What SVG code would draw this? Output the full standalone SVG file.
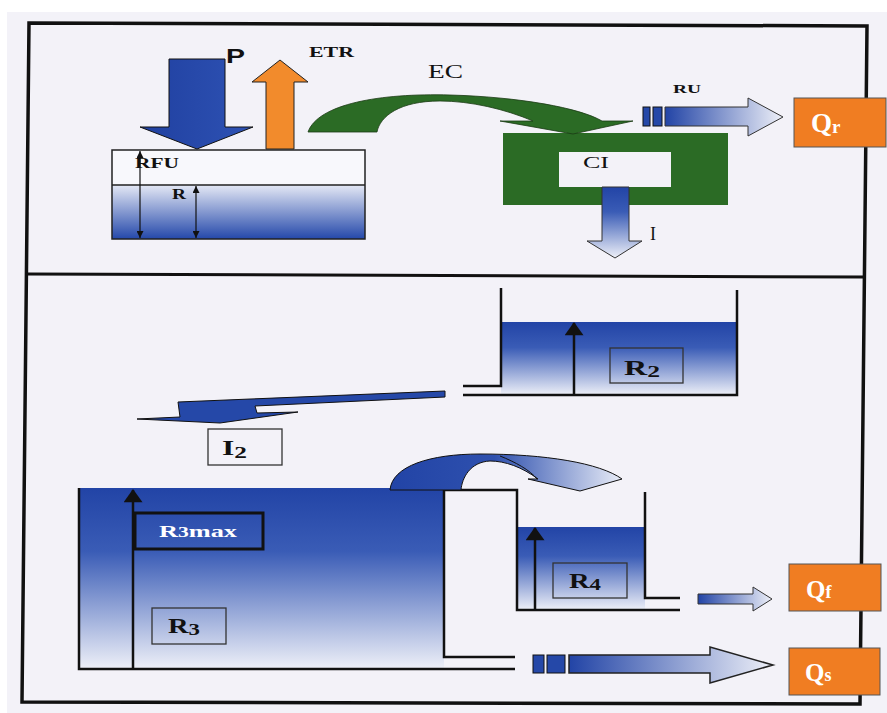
<svg xmlns="http://www.w3.org/2000/svg" width="887" height="713" viewBox="0 0 887 713">
<style>
.frame{fill:none;stroke:#111;stroke-width:3.5;stroke-linejoin:miter}
.wall{fill:none;stroke:#111;stroke-width:2.5}
.thin{stroke:#222;stroke-width:1.2}
.lbl{font-family:"Liberation Serif","Times New Roman",serif;font-weight:bold;fill:#111}
.reg{font-family:"Liberation Serif","Times New Roman",serif;fill:#111}
.box{fill:none;stroke:#333;stroke-width:1.3}
.q{fill:#f07d22;stroke:#555;stroke-width:1}
.qt{font-family:"Liberation Serif","Times New Roman",serif;font-weight:bold;fill:#fff}
.dark{fill:#2548a8;stroke:#111;stroke-width:1}
</style>
<defs>
<linearGradient id="gDown" x1="0" y1="0" x2="0" y2="1">
<stop offset="0" stop-color="#2244a6"/>
<stop offset="0.35" stop-color="#3a5cb6"/>
<stop offset="1" stop-color="#eef0f8"/>
</linearGradient>
<linearGradient id="gUp" x1="0" y1="0" x2="0" y2="1">
<stop offset="0" stop-color="#e4e8f5"/>
<stop offset="1" stop-color="#2448aa"/>
</linearGradient>
<linearGradient id="gRight" x1="0" y1="0" x2="1" y2="0">
<stop offset="0" stop-color="#2244a6"/>
<stop offset="1" stop-color="#eef0f8"/>
</linearGradient>
<linearGradient id="gArc" x1="0" y1="0" x2="1" y2="0">
<stop offset="0" stop-color="#2244a6"/>
<stop offset="0.45" stop-color="#2e50ae"/>
<stop offset="1" stop-color="#e8ecf7"/>
</linearGradient>
<linearGradient id="gP" x1="0" y1="0" x2="1" y2="0">
<stop offset="0" stop-color="#2040a0"/>
<stop offset="1" stop-color="#2e52b4"/>
</linearGradient>
<marker id="small" viewBox="0 0 8 8" refX="8" refY="4" markerWidth="8" markerHeight="7" markerUnits="userSpaceOnUse" orient="auto-start-reverse">
<path d="M0,0 L8,4 L0,8 Z" fill="#111"/>
</marker>
<marker id="big" viewBox="0 0 14 20" refX="13" refY="10" markerWidth="14" markerHeight="19" markerUnits="userSpaceOnUse" orient="auto">
<path d="M0,0 L14,10 L0,20 Z" fill="#111"/>
</marker>
</defs>
<rect x="0" y="0" width="887" height="713" fill="#ffffff"/>
<rect x="7" y="12" width="880" height="701" fill="#f3f2f8"/>
<g id="frame">
<polygon class="frame" points="29,23 867,26 860,704 22,702"/>
<line x1="27" y1="274" x2="864" y2="277" stroke="#111" stroke-width="3"/>
</g>
<g id="rfu">
<rect x="112" y="150" width="253" height="35" fill="#f8f8fc"/>
<rect x="112" y="185" width="253" height="54" fill="url(#gUp)"/>
<rect x="112" y="150" width="253" height="89" fill="none" stroke="#222" stroke-width="1.5"/>
<line x1="112" y1="185" x2="365" y2="185" stroke="#222" stroke-width="1.5"/>
<line x1="140" y1="151" x2="140" y2="238" stroke="#111" stroke-width="1.2" marker-start="url(#small)" marker-end="url(#small)"/>
<line x1="196" y1="186" x2="196" y2="238" stroke="#111" stroke-width="1.2" marker-start="url(#small)" marker-end="url(#small)"/>
<text class="lbl" x="135" y="168" font-size="14" textLength="44" lengthAdjust="spacingAndGlyphs">RFU</text>
<text class="lbl" x="172" y="199" font-size="14" textLength="14" lengthAdjust="spacingAndGlyphs">R</text>
</g>
<g id="ci">
<rect x="503" y="133" width="225" height="72" fill="#2b6b25"/>
<rect x="559" y="152" width="112" height="35" fill="#f3f2f8"/>
<text class="reg" x="583" y="168" font-size="17" textLength="26" lengthAdjust="spacingAndGlyphs">CI</text>
</g>
<g id="qr">
<rect class="q" x="794" y="98" width="92" height="49"/>
<text class="qt" x="811" y="132" font-size="27">Q<tspan font-size="19" dy="1">r</tspan></text>
</g>
<g id="r2">
<rect x="501" y="322" width="236" height="73" fill="url(#gDown)"/>
<polyline class="wall" points="501,288 501,386 463,386"/>
<polyline class="wall" points="463,395 737,395 737,290"/>
<line x1="574" y1="395" x2="574" y2="323" stroke="#111" stroke-width="2.5" marker-end="url(#big)"/>
<rect class="box" x="610" y="348" width="73" height="35"/>
<text class="lbl" x="624" y="375" font-size="20" textLength="36" lengthAdjust="spacingAndGlyphs">R<tspan font-size="16" dy="2">2</tspan></text>
</g>
<g id="i2">
<rect class="box" x="208" y="429" width="74" height="36"/>
<text class="lbl" x="222" y="455" font-size="20" textLength="25" lengthAdjust="spacingAndGlyphs">I<tspan font-size="16" dy="3">2</tspan></text>
</g>
<g id="r3">
<rect x="79" y="488" width="365" height="181" fill="url(#gDown)"/>
<rect x="444" y="490" width="73" height="167" fill="#f3f2f8"/>
<polyline class="wall" points="79,488 79,669 515,669"/>
<polyline class="wall" points="444,490 444,657 515,657"/>
<line x1="133" y1="668" x2="133" y2="490" stroke="#111" stroke-width="2.5" marker-end="url(#big)"/>
<rect x="135" y="513" width="128" height="36" fill="none" stroke="#111" stroke-width="3"/>
<text class="qt" x="159" y="537" font-size="17" textLength="78" lengthAdjust="spacingAndGlyphs" font-weight="normal">R<tspan font-size="14">3</tspan>max</text>
<rect class="box" x="152" y="608" width="74" height="36"/>
<text class="lbl" x="168" y="633" font-size="20" textLength="32" lengthAdjust="spacingAndGlyphs">R<tspan font-size="16" dy="2">3</tspan></text>
</g>
<g id="r4">
<rect x="517" y="527" width="128" height="83" fill="url(#gDown)"/>
<polyline class="wall" points="444,490 517,490 517,610 680,610"/>
<polyline class="wall" points="645,492 645,598 680,598"/>
<line x1="535" y1="610" x2="535" y2="528" stroke="#111" stroke-width="2.5" marker-end="url(#big)"/>
<rect class="box" x="553" y="563" width="74" height="35"/>
<text class="lbl" x="569" y="588" font-size="20" textLength="32" lengthAdjust="spacingAndGlyphs">R<tspan font-size="16" dy="2">4</tspan></text>
</g>
<g id="qf">
<rect class="q" x="789" y="564" width="92" height="47"/>
<text class="qt" x="806" y="598" font-size="25">Q<tspan font-size="18">f</tspan></text>
</g>
<g id="qs">
<rect class="q" x="789" y="648" width="91" height="47"/>
<text class="qt" x="805" y="681" font-size="25">Q<tspan font-size="18">s</tspan></text>
</g>
<g id="connectors">
<g id="p-arrow">
<polygon points="169,59 225,59 225,127 253,127 197,149 140,127 169,127" fill="url(#gP)" stroke="#111" stroke-width="1"/>
<text x="226" y="63" font-family="'Liberation Sans',Arial,sans-serif" font-weight="bold" font-size="21" fill="#111" textLength="19" lengthAdjust="spacingAndGlyphs">P</text>
</g>
<g id="etr-arrow">
<polygon points="266,149 266,82 252,82 280,60 308,82 294,82 294,149" fill="#f28b2c" stroke="#222" stroke-width="1"/>
<text class="lbl" x="309" y="57" font-size="14" textLength="45" lengthAdjust="spacingAndGlyphs">ETR</text>
</g>
<g id="ec-arrow">
<path d="M308,132 C318,104 380,93 450,95 C520,97 580,108 602,121 L633,121 L573,134 L500,121 L533,121 C505,109 470,101 440,101 C400,101 380,116 377,132 Z" fill="#2b6b25" stroke="#1a3a14" stroke-width="0.8"/>
<text class="reg" x="428" y="78" font-size="19" textLength="35" lengthAdjust="spacingAndGlyphs">EC</text>
</g>
<g id="i-arrow">
<polygon points="602,187 629,187 629,241 642,241 615,258 587,241 602,241" fill="url(#gDown)" stroke="#333" stroke-width="1"/>
<text class="reg" x="650" y="240" font-size="18">I</text>
</g>
<g id="ru-arrow">
<rect class="dark" x="643" y="107" width="7" height="19"/>
<rect class="dark" x="653" y="107" width="9" height="19"/>
<polygon points="665,107 748,107 748,98 783,117 748,136 748,126 665,126" fill="url(#gRight)" stroke="#333" stroke-width="1"/>
<text class="lbl" x="673" y="93" font-size="13" textLength="28" lengthAdjust="spacingAndGlyphs">RU</text>
</g>
<g id="i2-arrow">
<polygon points="445,391 445,397 255,406 257,413 298,412 220,423 137,419 180,417 178,402" fill="#2548a8" stroke="#111" stroke-width="1"/>
</g>
<g id="r3-r4-arrow">
<path d="M390,490 C392,466 430,454 480,454 C545,454 600,463 622,479 L580,491 L528,479 L538,479 C522,467 505,461 490,461 C470,462 462,478 461,490 Z" fill="url(#gArc)" stroke="#111" stroke-width="1"/>
<path d="M500,456 C515,462 530,470 537,479" fill="none" stroke="#111" stroke-width="1"/>
</g>
<g id="qf-arrow">
<polygon points="698,594 753,594 753,587 772,599 753,611 753,604 698,604" fill="url(#gRight)" stroke="#333" stroke-width="1"/>
</g>
<g id="qs-arrow">
<rect class="dark" x="533" y="655" width="11" height="18"/>
<rect class="dark" x="547" y="655" width="18" height="18"/>
<polygon points="569,655 710,655 710,647 773,665 710,683 710,673 569,673" fill="url(#gRight)" stroke="#222" stroke-width="1.5"/>
</g>
</g>
</svg>
